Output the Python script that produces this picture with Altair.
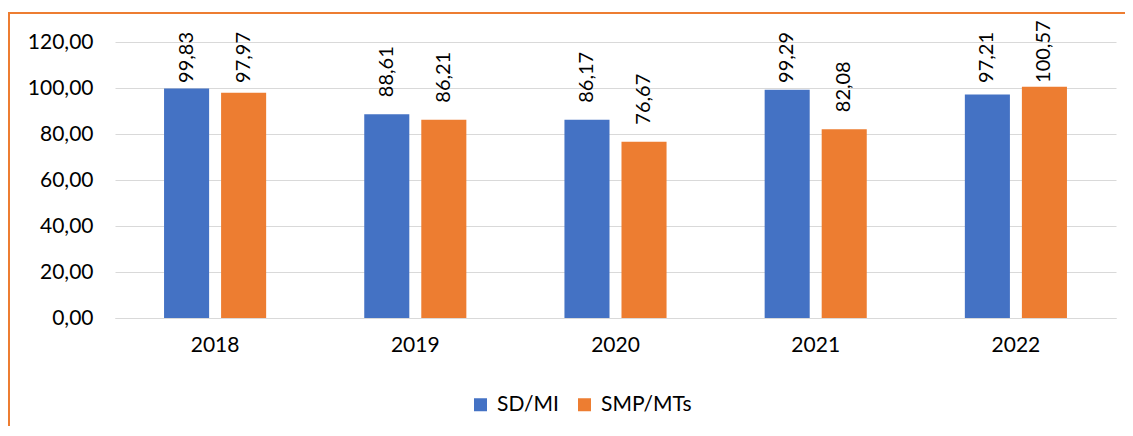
import altair as alt
import pandas as pd

years = ["2018", "2019", "2020", "2021", "2022"]
series_names = ["SD/MI", "SMP/MTs"]
sd_mi = [99.83, 88.61, 86.17, 99.29, 97.21]
smp_mts = [97.97, 86.21, 76.67, 82.08, 100.57]
colors = ["#4472C4", "#ED7D31"]

rows = []
for i, y in enumerate(years):
    rows.append({"year": y, "series": series_names[0], "v": sd_mi[i]})
    rows.append({"year": y, "series": series_names[1], "v": smp_mts[i]})
df = pd.DataFrame(rows)

FONT = "Lato"
W, H = 1001, 276

x_enc = alt.X("year:N", title=None, sort=years,
              scale=alt.Scale(paddingInner=0.49, paddingOuter=0.245),
              axis=alt.Axis(labelAngle=0, ticks=False, domain=True, domainColor="#D9D9D9",
                            domainWidth=1, labelFontSize=21, labelFont=FONT,
                            labelColor="#000000", labelPadding=16, grid=False))
xo_enc = alt.XOffset("series:N", sort=series_names,
                     scale=alt.Scale(paddingInner=0.21, paddingOuter=0))
y_scale = alt.Scale(domain=[0, 120])

bars = alt.Chart(df).mark_bar().encode(
    x=x_enc,
    xOffset=xo_enc,
    y=alt.Y("v:Q", title=None, scale=y_scale,
            axis=alt.Axis(values=[0, 20, 40, 60, 80, 100, 120],
                          labelExpr="replace(format(datum.value, '.2f'), '.', ',')",
                          domain=False, ticks=False, grid=True, gridColor="#D9D9D9",
                          gridWidth=1, labelFontSize=21, labelFont=FONT,
                          labelColor="#000000", labelPadding=22)),
    color=alt.Color("series:N", sort=series_names,
                    scale=alt.Scale(domain=series_names, range=colors),
                    legend=alt.Legend(title=None, orient="none", direction="horizontal",
                                      legendX=355, legendY=352, symbolType="square",
                                      symbolSize=169, symbolStrokeWidth=0,
                                      labelFontSize=21, labelFont=FONT, labelColor="#000000",
                                      columnPadding=15, labelOffset=6)),
)

labels = alt.Chart(df).transform_calculate(
    lab="replace(format(datum.v, '.2f'), '.', ',')",
    ly="min(datum.v, 94.8)",
).mark_text(angle=270, align="left", baseline="middle", dx=17,
            fontSize=20, font=FONT, color="#000000").encode(
    x=alt.X("year:N", sort=years),
    xOffset=alt.XOffset("series:N", sort=series_names),
    y=alt.Y("ly:Q", scale=y_scale),
    text="lab:N",
)

frame = alt.Chart(pd.DataFrame({"a": [0]})).mark_rect(
    fillOpacity=0, stroke="#ED7D31", strokeWidth=2).encode(
    x=alt.value(-106), x2=alt.value(W + 100),
    y=alt.value(-29), y2=alt.value(H + 200),
)

chart = alt.layer(bars, labels, frame).properties(
    width=W, height=H,
    padding={"left": 107, "top": 34, "right": 9, "bottom": 108},
    autosize=alt.AutoSizeParams(type="none"),
    background="white",
).configure_view(stroke=None)

chart.save("out.html", embed_options={"renderer": "svg", "actions": False})
